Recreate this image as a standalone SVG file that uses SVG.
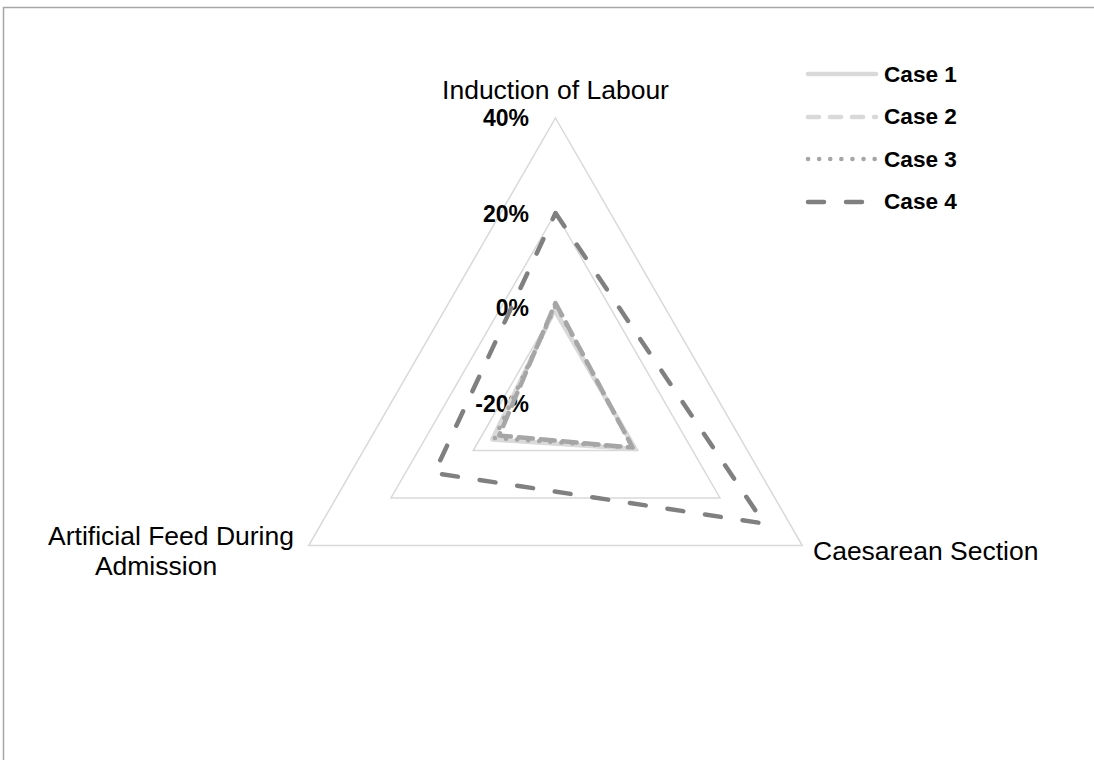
<svg xmlns="http://www.w3.org/2000/svg" width="1094" height="760" viewBox="0 0 1094 760">
<style>
.grid{fill:none;stroke:#d9d9d9;stroke-width:1.5}
.c1{fill:none;stroke:#d9d9d9;stroke-width:4.5;stroke-linejoin:round;stroke-linecap:round}
.c2{fill:none;stroke:#a6a6a6;stroke-width:4.5;stroke-dasharray:14 8;stroke-linecap:round;stroke-linejoin:round}
.c2l{fill:none;stroke:#d9d9d9;stroke-width:4.5;stroke-dasharray:11 11;stroke-linecap:round}
.c3{fill:none;stroke:#a6a6a6;stroke-width:4.5;stroke-dasharray:0.1 11;stroke-linecap:round;stroke-linejoin:round}
.c4{fill:none;stroke:#808080;stroke-width:4.5;stroke-dasharray:16 22;stroke-linecap:round;stroke-linejoin:round}
.ax{font-family:"Liberation Sans",Arial,sans-serif;font-size:26.5px;fill:#000}
.pct{font-family:"Liberation Sans",Arial,sans-serif;font-size:23px;font-weight:bold;fill:#000;text-anchor:end}
.lg{font-family:"Liberation Sans",Arial,sans-serif;font-size:22.6px;font-weight:bold;fill:#000}
</style>
<rect x="0" y="0" width="1094" height="760" fill="#ffffff"/>
<rect x="3.5" y="7.5" width="1200" height="900" fill="none" stroke="#a6a6a6" stroke-width="1.5"/>
<g id="grid">
<polygon class="grid" points="555.5,118 802.3,545.5 308.7,545.5"/>
<polygon class="grid" points="555.5,213 720,498 391,498"/>
<polygon class="grid" points="555.5,308 637.8,450.5 473.2,450.5"/>
</g>
<g id="axis-labels">
<text class="ax" x="555.5" y="99" text-anchor="middle">Induction of Labour</text>
<text class="ax" x="813" y="560">Caesarean Section</text>
<text class="ax" x="171" y="545" text-anchor="middle">Artificial Feed During</text>
<text class="ax" x="156" y="575" text-anchor="middle">Admission</text>
</g>
<g id="scale-labels">
<text class="pct" x="529" y="126">40%</text>
<text class="pct" x="529" y="222">20%</text>
<text class="pct" x="529" y="316">0%</text>
<text class="pct" x="529" y="412">-20%</text>
</g>
<g id="series">
<polygon id="case1" class="c1" points="554.5,310 635.2,449 492.3,439.5"/>
<polygon id="case2" class="c2" points="555.5,303 632.6,447.5 499.2,435.5"/>
<polygon id="case3" class="c3" points="556,305 632.6,447.5 494.9,438"/>
<polygon id="case4" class="c4" points="555.5,213 764.2,523.5 434.3,473"/>
</g>
<g id="legend">
<g id="leg-case1"><line class="c1" x1="808" y1="74" x2="876" y2="74"/><text class="lg" x="884" y="82">Case 1</text></g>
<g id="leg-case2"><line class="c2l" x1="808" y1="117" x2="876" y2="117"/><text class="lg" x="884" y="124">Case 2</text></g>
<g id="leg-case3"><line class="c3" x1="808" y1="159" x2="877" y2="159"/><text class="lg" x="884" y="167">Case 3</text></g>
<g id="leg-case4"><line class="c4" x1="808" y1="202" x2="876" y2="202"/><text class="lg" x="884" y="209">Case 4</text></g>
</g>
</svg>
